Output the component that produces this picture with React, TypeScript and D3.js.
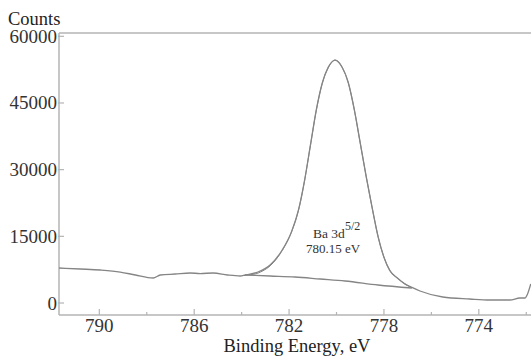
import React, { useRef, useEffect } from "react";
import * as d3 from "d3";

// measured spectrum: binding energy (eV) and counts
const energy = [
  791.7, 790.8, 789.96, 789.12, 788.48, 787.73, 787.43, 786.8, 786.17, 785.75,
  785.2, 784.6, 784.06, 783.85, 783.31, 782.8, 782.29, 781.9, 781.6, 781.35,
  781.1, 780.85, 780.6, 780.35, 780.06, 779.77, 779.5, 779.25, 779.0, 778.75,
  778.5, 778.25, 778.0, 777.75, 777.41, 777.12, 776.82, 776.48,
  775.52, 774.38, 773.54, 772.69, 772.27, 772.06, 771.93, 771.81
];
const counts = [
  7870, 7650, 7420, 6970, 6300, 5620, 6300, 6520, 6750, 6630,
  6750, 6300, 6070, 6300, 6970, 8550, 11920, 16000, 21000, 27500,
  35500, 43500, 49500, 53000, 54650, 53100, 49500, 43500, 36000, 28500,
  21500, 15000, 10300, 7300, 5500, 4300, 3500, 2700,
  1350, 900, 675, 675, 1120, 1120, 2250, 4270
];

// fitted envelope over the Ba 3d5/2 peak
const fitEnergy = [
  783.85, 783.5, 783.1, 782.8, 782.29, 781.9, 781.6, 781.35, 781.1, 780.85,
  780.6, 780.35, 780.06, 779.77, 779.5, 779.25, 779.0, 778.75, 778.5, 778.25,
  778.0, 777.75, 777.41, 777.12, 776.82
];
const fitCounts = [
  6300, 6450, 7250, 8350, 11800, 15900, 20900, 27400, 35400, 43400,
  49400, 52950, 54650, 53100, 49500, 43500, 36000, 28500, 21500, 15000,
  10300, 7300, 5500, 4300, 3450
];

// background under the peak
const bgEnergy = [783.85, 782.8, 781.75, 780.69, 779.64, 778.25, 776.82];
const bgCounts = [6300, 6070, 5850, 5400, 4950, 4050, 3370];

const majorTicks = [790, 786, 782, 778, 774];
const minorTicks = [788, 784, 780, 776, 772];
const yTicks = [0, 15000, 30000, 45000, 60000];

const W = 531;
const H = 358;
const left = 59;
const right = 531;
const top = 33;
const bottom = 315;
const font = "'Liberation Serif', 'Times New Roman', serif";

const App = () => {
  const svgRef = useRef<SVGSVGElement>(null);

  useEffect(() => {
    const svg = d3.select(svgRef.current);
    svg.selectAll("*").remove();

    const x = d3.scaleLinear().domain([791.7, 771.8]).range([left, right]);
    const y = d3.scaleLinear().domain([0, 60000]).range([303, 36.3]);

    const axisColor = "#b4b4b4";
    const lineColor = "#858585";

    // frame
    svg.append("line")
      .attr("x1", left).attr("x2", right).attr("y1", top).attr("y2", top)
      .attr("stroke", axisColor).attr("stroke-width", 1.5);
    svg.append("line")
      .attr("x1", left).attr("x2", left).attr("y1", top).attr("y2", bottom)
      .attr("stroke", axisColor).attr("stroke-width", 1.5);
    svg.append("line")
      .attr("x1", left).attr("x2", right).attr("y1", bottom).attr("y2", bottom)
      .attr("stroke", axisColor).attr("stroke-width", 1.5);

    // x ticks
    svg.selectAll(".xmaj")
      .data(majorTicks)
      .join("line")
      .attr("class", "xmaj")
      .attr("x1", d => x(d)).attr("x2", d => x(d))
      .attr("y1", bottom).attr("y2", bottom - 6)
      .attr("stroke", axisColor).attr("stroke-width", 1.2);
    svg.selectAll(".xmin")
      .data(minorTicks)
      .join("line")
      .attr("class", "xmin")
      .attr("x1", d => x(d)).attr("x2", d => x(d))
      .attr("y1", bottom).attr("y2", bottom - 3)
      .attr("stroke", axisColor).attr("stroke-width", 1.2);
    svg.selectAll(".xlab")
      .data(majorTicks)
      .join("text")
      .attr("class", "xlab")
      .attr("x", d => x(d))
      .attr("y", 332)
      .attr("text-anchor", "middle")
      .attr("font-family", font)
      .attr("font-size", 19)
      .attr("fill", "#333")
      .text(d => d);

    // y ticks
    svg.selectAll(".ytick")
      .data(yTicks)
      .join("line")
      .attr("class", "ytick")
      .attr("x1", left - 1).attr("x2", left + 5)
      .attr("y1", d => y(d)).attr("y2", d => y(d))
      .attr("stroke", axisColor).attr("stroke-width", 1.2);
    svg.selectAll(".ylab")
      .data(yTicks)
      .join("text")
      .attr("class", "ylab")
      .attr("x", left - 2)
      .attr("y", d => y(d) + 6.5)
      .attr("text-anchor", "end")
      .attr("font-family", font)
      .attr("font-size", 19)
      .attr("fill", "#333")
      .text(d => d);

    // axis titles
    svg.append("text")
      .attr("x", 8).attr("y", 25)
      .attr("font-family", font).attr("font-size", 18.5).attr("fill", "#222")
      .text("Counts");
    svg.append("text")
      .attr("x", 297).attr("y", 352)
      .attr("text-anchor", "middle")
      .attr("font-family", font).attr("font-size", 18.5).attr("fill", "#222")
      .text("Binding Energy, eV");

    const line = d3.line<[number, number]>()
      .x(d => x(d[0]))
      .y(d => y(d[1]))
      .curve(d3.curveMonotoneX);

    const draw = (es: number[], cs: number[], w: number) => {
      svg.append("path")
        .datum(es.map((e, i) => [e, cs[i]] as [number, number]))
        .attr("d", line)
        .attr("fill", "none")
        .attr("stroke", lineColor)
        .attr("stroke-width", w);
    };
    draw(energy, counts, 1.3);
    draw(fitEnergy, fitCounts, 1);
    draw(bgEnergy, bgCounts, 1.3);

    // annotation
    const ann = svg.append("text")
      .attr("x", 313).attr("y", 238)
      .attr("font-family", font).attr("font-size", 13.5).attr("fill", "#333");
    ann.append("tspan").text("Ba 3d");
    ann.append("tspan").attr("dy", -8).attr("font-size", 12).text("5/2");
    svg.append("text")
      .attr("x", 306).attr("y", 253)
      .attr("font-family", font).attr("font-size", 13).attr("fill", "#333")
      .text("780.15 eV");
  }, []);

  return (
    <svg
      ref={svgRef}
      width={W}
      height={H}
      style={{ position: "absolute", left: 0, top: 0, background: "#fff" }}
    />
  );
};

export default App;
